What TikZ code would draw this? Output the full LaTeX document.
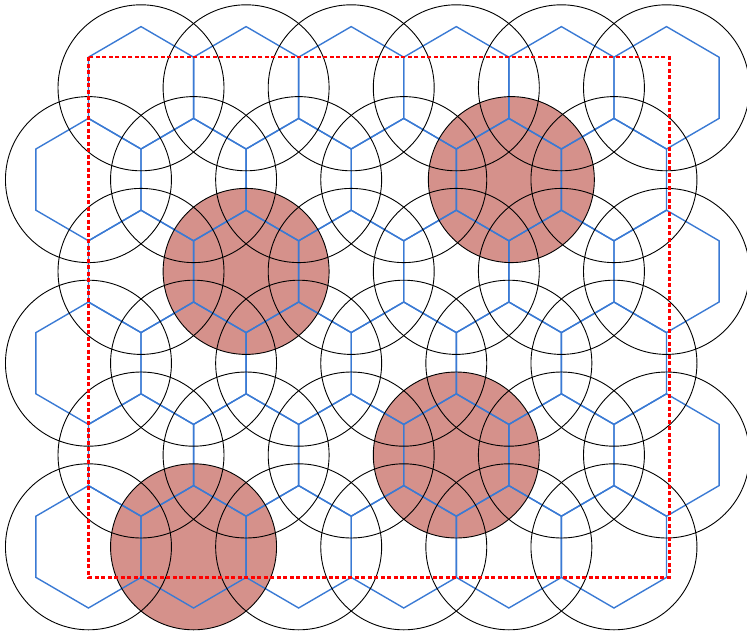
\documentclass[tikz,border=0pt]{standalone}
\definecolor{hexblue}{RGB}{58,122,212}
\definecolor{cellred}{RGB}{213,145,139}
\tikzset{
  hexline/.style={draw=hexblue, line width=1.4pt, line join=miter},
  ring/.style={draw=black, line width=0.9pt},
  hot/.style={fill=cellred, draw=none},
  frame/.style={draw=red, line width=2.4pt, dash pattern=on 4pt off 2.5pt},
}
\begin{document}
\begin{tikzpicture}[x=1pt,y=-1pt]
\useasboundingbox (0,0) rectangle (747,632);
% hexagon centres
\foreach \r in {0,...,5}{
  \foreach \k in {0,...,5}{
    \pgfmathsetmacro\cx{88.45+52.55*(1-mod(\r,2))+105.1*\k}
    \pgfmathsetmacro\cy{87.8+91.8*\r}
    \coordinate (c-\r-\k) at (\cx,\cy);
    \coordinate (o-\r-\k) at (\cx,\cy);
  }
}
% circle centre that sits slightly off its hexagon centre
\coordinate (o-1-4) at ([xshift=2.5pt]c-1-4);
% filled cells
\foreach \p in {2-1,1-4,4-3,5-1}{
  \fill[hot] (o-\p) circle[radius=83pt];
}
% hexagonal grid
\foreach \r in {0,...,5}{
  \foreach \k in {0,...,5}{
    \draw[hexline, shift={(c-\r-\k)}] (0,-61.2) -- (52.55,-30.6) -- (52.55,30.6) -- (0,61.2) -- (-52.55,30.6) -- (-52.55,-30.6) -- cycle;
  }
}
% coverage circles
\foreach \r in {0,...,5}{
  \foreach \k in {0,...,5}{
    \draw[ring] (o-\r-\k) circle[radius=83pt];
  }
}
% dashed frame
\coordinate (fr-tl) at (88.45,57.2);
\coordinate (fr-br) at (669.3,577.3);
\draw[frame] (fr-tl) rectangle (fr-br);
\end{tikzpicture}
\end{document}
